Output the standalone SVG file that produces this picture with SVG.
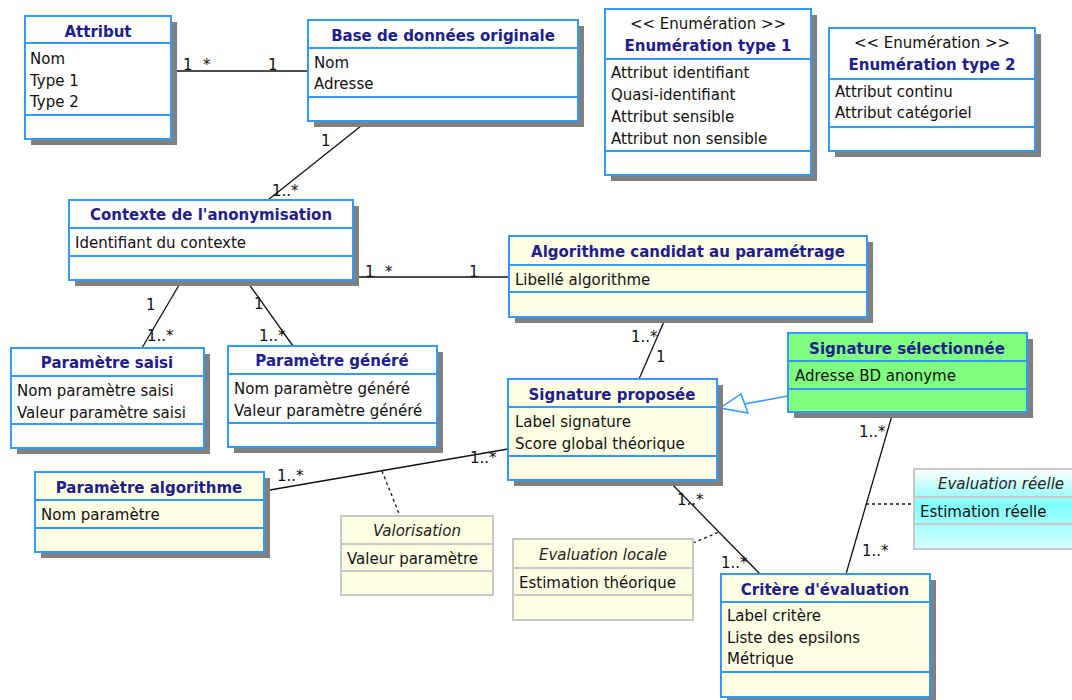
<svg xmlns="http://www.w3.org/2000/svg" width="1072" height="700" viewBox="0 0 1072 700">
<defs>
<style>
text{font-family:"DejaVu Sans","Liberation Sans",sans-serif;font-size:15px;fill:#111}
.t{font-weight:bold;fill:#20208c;text-anchor:middle}
.st{text-anchor:middle}
.it{font-style:italic;text-anchor:middle;fill:#222}
.box{stroke:#3399ff;stroke-width:2}
.abox{stroke:#c8c8c8;stroke-width:2}
.sep{stroke:#3399ff;stroke-width:2}
.asep{stroke:#c8c8c8;stroke-width:2}
.sh{fill:#808080}
.w{fill:#ffffff}
.c{fill:#ffffe4}
.g{fill:#80ff80}
.ln{stroke:#111;stroke-width:1.3;fill:none}
.dl{stroke:#111;stroke-width:1.3;fill:none;stroke-dasharray:3,3}
.gen{stroke:#3399ff;stroke-width:1.5;fill:none}
.m{font-size:15px}
</style>
<linearGradient id="cy" x1="0" y1="0" x2="0" y2="1">
<stop offset="0" stop-color="#ffffff"/>
<stop offset="0.45" stop-color="#80ffff"/>
<stop offset="1" stop-color="#d6ffff"/>
</linearGradient>
</defs>
<rect width="1072" height="700" fill="#ffffff"/>

<g id="connectors">
<line class="ln" x1="171" y1="71" x2="308" y2="71"/>
<text class="m" x="183" y="70">1</text><text class="m" x="203" y="70">*</text><text class="m" x="268" y="70">1</text>
<line class="ln" x1="366" y1="122" x2="268" y2="200"/>
<text class="m" x="321" y="146">1</text><text class="m" x="272" y="196">1..*</text>
<line class="ln" x1="353" y1="277" x2="509" y2="277"/>
<text class="m" x="365" y="277">1</text><text class="m" x="385" y="277">*</text><text class="m" x="469" y="277">1</text>
<line class="ln" x1="182" y1="280" x2="142" y2="348"/>
<text class="m" x="146" y="310">1</text><text class="m" x="147" y="341">1..*</text>
<line class="ln" x1="246" y1="280" x2="293" y2="346"/>
<text class="m" x="254" y="309">1</text><text class="m" x="259" y="341">1..*</text>
<line class="ln" x1="666" y1="317" x2="639" y2="379"/>
<text class="m" x="631" y="342">1..*</text><text class="m" x="656" y="362">1</text>
<line class="ln" x1="264" y1="491" x2="508" y2="449"/>
<text class="m" x="277" y="481">1..*</text><text class="m" x="470" y="463">1..*</text>
<line class="dl" x1="382" y1="471" x2="400" y2="516"/>
<line class="ln" x1="668" y1="480" x2="760" y2="574"/>
<text class="m" x="677" y="505">1..*</text><text class="m" x="721" y="568">1..*</text>
<line class="dl" x1="693" y1="543" x2="719" y2="532"/>
<line class="ln" x1="893" y1="412" x2="846" y2="574"/>
<text class="m" x="859" y="437">1..*</text><text class="m" x="862" y="556">1..*</text>
<line class="dl" x1="866" y1="504" x2="914" y2="504"/>
<line class="gen" x1="788" y1="396" x2="744" y2="404"/>
<polygon class="gen" fill="#ffffff" points="720,408 741,394 748,413"/>
</g>

<g id="attribut">
<rect class="sh" x="31" y="22" width="146" height="123"/>
<rect class="box w" x="25" y="16" width="146" height="123"/>
<line class="sep" x1="25" y1="43" x2="171" y2="43"/><line class="sep" x1="25" y1="115" x2="171" y2="115"/>
<text class="t" x="98" y="37">Attribut</text>
<text x="30" y="64">Nom</text><text x="30" y="86">Type 1</text><text x="30" y="107">Type 2</text>
</g>

<g id="bd-originale">
<rect class="sh" x="314" y="26" width="270" height="101"/>
<rect class="box w" x="308" y="20" width="270" height="101"/>
<line class="sep" x1="308" y1="48" x2="578" y2="48"/><line class="sep" x1="308" y1="97" x2="578" y2="97"/>
<text class="t" x="443" y="41">Base de données originale</text>
<text x="314" y="68">Nom</text><text x="314" y="89">Adresse</text>
</g>

<g id="enum1">
<rect class="sh" x="611" y="15" width="206" height="166"/>
<rect class="box w" x="605" y="9" width="206" height="166"/>
<line class="sep" x1="605" y1="59" x2="811" y2="59"/><line class="sep" x1="605" y1="151" x2="811" y2="151"/>
<text class="st" x="708" y="29">&lt;&lt; Enumération &gt;&gt;</text>
<text class="t" x="708" y="51">Enumération type 1</text>
<text x="611" y="78">Attribut identifiant</text><text x="611" y="100">Quasi-identifiant</text>
<text x="611" y="122">Attribut sensible</text><text x="611" y="144">Attribut non sensible</text>
</g>

<g id="enum2">
<rect class="sh" x="835" y="34" width="206" height="123"/>
<rect class="box w" x="829" y="28" width="206" height="123"/>
<line class="sep" x1="829" y1="79" x2="1035" y2="79"/><line class="sep" x1="829" y1="127" x2="1035" y2="127"/>
<text class="st" x="932" y="48">&lt;&lt; Enumération &gt;&gt;</text>
<text class="t" x="932" y="70">Enumération type 2</text>
<text x="835" y="97">Attribut continu</text><text x="835" y="118">Attribut catégoriel</text>
</g>

<g id="contexte">
<rect class="sh" x="75" y="206" width="284" height="80"/>
<rect class="box w" x="69" y="200" width="284" height="80"/>
<line class="sep" x1="69" y1="228" x2="353" y2="228"/><line class="sep" x1="69" y1="256" x2="353" y2="256"/>
<text class="t" x="211" y="220">Contexte de l'anonymisation</text>
<text x="75" y="248">Identifiant du contexte</text>
</g>

<g id="algorithme">
<rect class="sh" x="515" y="242" width="358" height="81"/>
<rect class="box c" x="509" y="236" width="358" height="81"/>
<line class="sep" x1="509" y1="265" x2="867" y2="265"/><line class="sep" x1="509" y1="292" x2="867" y2="292"/>
<text class="t" x="688" y="257">Algorithme candidat au paramétrage</text>
<text x="515" y="285">Libellé algorithme</text>
</g>

<g id="param-saisi">
<rect class="sh" x="17" y="354" width="193" height="100"/>
<rect class="box w" x="11" y="348" width="193" height="100"/>
<line class="sep" x1="11" y1="376" x2="204" y2="376"/><line class="sep" x1="11" y1="424" x2="204" y2="424"/>
<text class="t" x="107" y="368">Paramètre saisi</text>
<text x="17" y="396">Nom paramètre saisi</text><text x="17" y="418">Valeur paramètre saisi</text>
</g>

<g id="param-genere">
<rect class="sh" x="234" y="352" width="209" height="101"/>
<rect class="box w" x="228" y="346" width="209" height="101"/>
<line class="sep" x1="228" y1="374" x2="437" y2="374"/><line class="sep" x1="228" y1="423" x2="437" y2="423"/>
<text class="t" x="332" y="366">Paramètre généré</text>
<text x="234" y="394">Nom paramètre généré</text><text x="234" y="416">Valeur paramètre généré</text>
</g>

<g id="signature-selectionnee">
<rect class="sh" x="794" y="339" width="239" height="79"/>
<rect class="box g" x="788" y="333" width="239" height="79"/>
<line class="sep" x1="788" y1="361" x2="1027" y2="361"/><line class="sep" x1="788" y1="389" x2="1027" y2="389"/>
<text class="t" x="907" y="354">Signature sélectionnée</text>
<text x="795" y="381">Adresse BD anonyme</text>
</g>

<g id="signature-proposee">
<rect class="sh" x="514" y="385" width="209" height="101"/>
<rect class="box c" x="508" y="379" width="209" height="101"/>
<line class="sep" x1="508" y1="407" x2="717" y2="407"/><line class="sep" x1="508" y1="456" x2="717" y2="456"/>
<text class="t" x="612" y="400">Signature proposée</text>
<text x="515" y="427">Label signature</text><text x="515" y="449">Score global théorique</text>
</g>

<g id="param-algorithme">
<rect class="sh" x="41" y="478" width="229" height="80"/>
<rect class="box c" x="35" y="472" width="229" height="80"/>
<line class="sep" x1="35" y1="500" x2="264" y2="500"/><line class="sep" x1="35" y1="528" x2="264" y2="528"/>
<text class="t" x="149" y="493">Paramètre algorithme</text>
<text x="41" y="520">Nom paramètre</text>
</g>

<g id="valorisation">
<rect class="abox c" x="341" y="516" width="152" height="79"/>
<line class="asep" x1="341" y1="544" x2="493" y2="544"/><line class="asep" x1="341" y1="571" x2="493" y2="571"/>
<text class="it" x="417" y="536">Valorisation</text>
<text x="347" y="564">Valeur paramètre</text>
</g>

<g id="evaluation-locale">
<rect class="abox c" x="513" y="539" width="180" height="81"/>
<line class="asep" x1="513" y1="568" x2="693" y2="568"/><line class="asep" x1="513" y1="595" x2="693" y2="595"/>
<text class="it" x="603" y="560">Evaluation locale</text>
<text x="519" y="588">Estimation théorique</text>
</g>

<g id="critere">
<rect class="sh" x="727" y="580" width="209" height="123"/>
<rect class="box c" x="721" y="574" width="209" height="123"/>
<line class="sep" x1="721" y1="602" x2="930" y2="602"/><line class="sep" x1="721" y1="672" x2="930" y2="672"/>
<text class="t" x="825" y="595">Critère d'évaluation</text>
<text x="727" y="621">Label critère</text><text x="727" y="643">Liste des epsilons</text><text x="727" y="664">Métrique</text>
</g>

<g id="evaluation-reelle">
<rect class="abox" fill="url(#cy)" x="914" y="469" width="174" height="80"/>
<line class="asep" x1="914" y1="497" x2="1088" y2="497"/><line class="asep" x1="914" y1="524" x2="1088" y2="524"/>
<text class="it" x="1001" y="489">Evaluation réelle</text>
<text x="920" y="517">Estimation réelle</text>
</g>
</svg>
